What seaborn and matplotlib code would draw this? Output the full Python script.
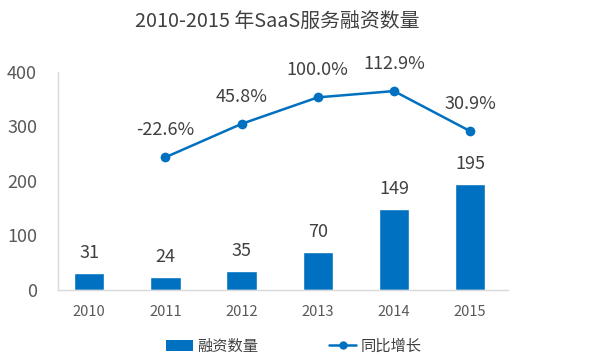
import matplotlib
matplotlib.use('Agg')
import matplotlib.pyplot as plt
import seaborn as sns
from matplotlib.patches import Patch
from matplotlib.lines import Line2D

# ── Data ─────────────────────────────────────────────────────────────────────
years        = ['2010', '2011', '2012', '2013', '2014', '2015']
deal_counts  = [31, 24, 35, 70, 149, 195]
growth_years = ['2011', '2012', '2013', '2014', '2015']
growth_pct   = [-22.6, 45.8, 100.0, 112.9, 30.9]

BLUE = '#0070C0'
TEXT = '#404040'
GRID = '#D9D9D9'

sns.set_theme(style='white')
plt.rcParams['font.family'] = ['Noto Sans CJK SC', 'DejaVu Sans']
plt.rcParams['font.weight'] = 'light'

fig = plt.figure(figsize=(5.91, 3.58), dpi=100)
ax = fig.add_axes([0.098, 0.19, 0.762, 0.609])

# bars
sns.barplot(x=years, y=deal_counts, color=BLUE, width=0.4, saturation=1,
            ax=ax)
ax.set_xlim(-0.41, 5.5)
ax.set_ylim(0, 400)
ax.set_yticks([0, 100, 200, 300, 400])
ax.tick_params(axis='y', labelsize=13, colors='#595959', pad=15, length=0)
ax.tick_params(axis='x', labelsize=10.5, colors='#595959', pad=11, length=0)
for s in ['top', 'right']:
    ax.spines[s].set_visible(False)
for s in ['left', 'bottom']:
    ax.spines[s].set_color(GRID)
    ax.spines[s].set_linewidth(1)

for i, v in enumerate(deal_counts):
    ax.annotate(f'{v}', (i, v), xytext=(0, 14.5), textcoords='offset points',
                ha='center', va='center', fontsize=13, color=TEXT)

# growth line on hidden secondary axis
ax2 = ax.twinx()
pos = [years.index(y) for y in growth_years]
sns.lineplot(x=pos, y=growth_pct, color=BLUE, marker='o', markersize=7,
             markeredgewidth=0, linewidth=1.8, ax=ax2)
ax2.set_ylim(-294, 152)
ax2.set_xlim(-0.41, 5.5)
ax2.axis('off')

for p, v in zip(pos, growth_pct):
    ax2.annotate(f'{v:.1f}%', (p, v), xytext=(0, 19.5),
                 textcoords='offset points', ha='center', va='center',
                 fontsize=13, color=TEXT)

fig.text(0.469, 0.939, '2010-2015 年SaaS服务融资数量', ha='center',
         va='center', fontsize=14.3, color=TEXT)

handles = [Patch(facecolor=BLUE, edgecolor='none'),
           Line2D([0], [0], color=BLUE, marker='o', markersize=6,
                  markeredgewidth=0, linewidth=1.8)]
fig.legend(handles, ['融资数量', '同比增长'], loc='center',
           bbox_to_anchor=(0.497, 0.033), ncol=2, frameon=False,
           fontsize=11, handlelength=1.8, handletextpad=0.3,
           columnspacing=4.6, labelcolor=TEXT)

fig.savefig('out.png', dpi=100)
